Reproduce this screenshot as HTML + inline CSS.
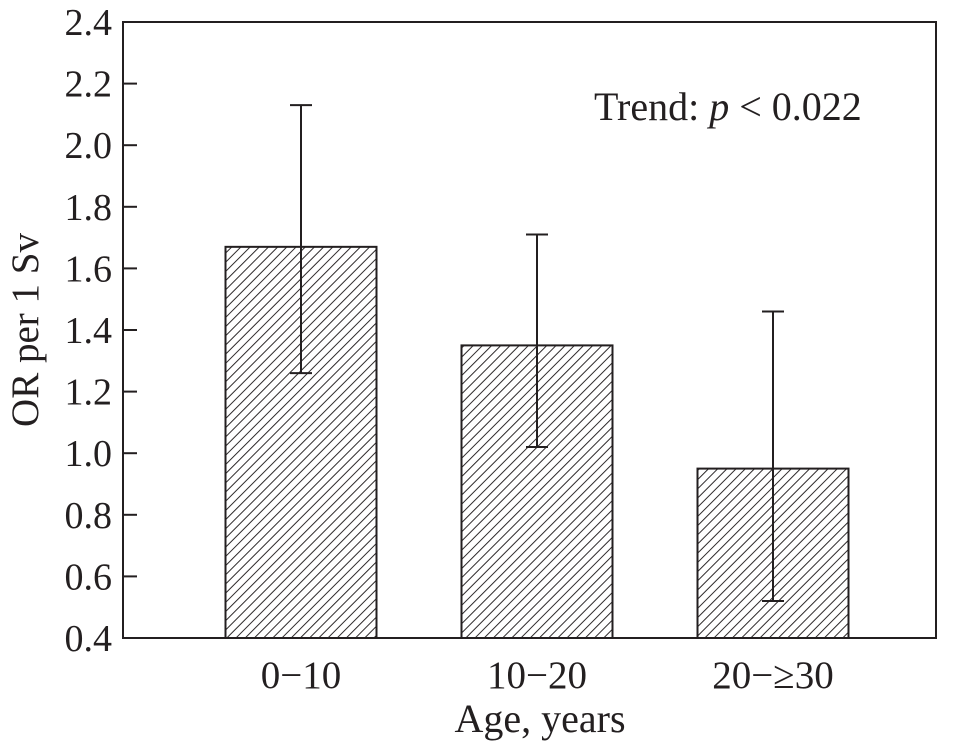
<!DOCTYPE html>
<html><head><meta charset="utf-8"><style>
body{margin:0;background:#fff}
svg text{font-family:"Liberation Serif",serif;fill:#231f20}
</style></head><body>
<svg id="chart" width="953" height="744" viewBox="0 0 953 744">
<defs><pattern id="hatch" patternUnits="userSpaceOnUse" width="6.5" height="6.5" patternTransform="rotate(45)">
<line x1="0" y1="0" x2="0" y2="6.5" stroke="#231f20" stroke-width="1.9"/></pattern></defs>
<g id="bars"></g>
<rect x="123" y="22" width="813" height="616" fill="none" stroke="#231f20" stroke-width="2"/>
<g id="axis"></g>
<text x="594" y="120" font-size="40">Trend: <tspan font-style="italic">p</tspan> &lt; 0.022</text>
<text x="540" y="732" font-size="40" text-anchor="middle">Age, years</text>
<text transform="translate(38,330) rotate(-90)" font-size="39" text-anchor="middle">OR per 1 Sv</text>
</svg>
<script>
const categories=["0\u221210","10\u221220","20\u2212\u226530"];
const values=[1.67,1.35,0.95];
const errLow=[1.26,1.02,0.52];
const errHigh=[2.13,1.71,1.46];
const yTicks=["0.4","0.6","0.8","1.0","1.2","1.4","1.6","1.8","2.0","2.2","2.4"];
const ns="http://www.w3.org/2000/svg";
const y0=638,yTop=22,vMin=0.4,vMax=2.4;
const y=v=>y0-(v-vMin)/(vMax-vMin)*(y0-yTop);
const band=236,startX=183;
const xc=i=>startX+band*i+118;
const bw=151;
function mk(t,a,p){const e=document.createElementNS(ns,t);for(const k in a)e.setAttribute(k,a[k]);p.appendChild(e);return e;}
const bars=document.getElementById('bars'),axis=document.getElementById('axis');
categories.forEach((c,i)=>{
  const r=mk('rect',{x:xc(i)-bw/2,y:y(values[i]),width:bw,height:y0-y(values[i]),fill:'url(#hatch)',stroke:'#231f20','stroke-width':2},bars);
  
  
  const g=mk('g',{stroke:'#231f20','stroke-width':2},bars);
  
  
  mk('line',{x1:xc(i),x2:xc(i),y1:y(errLow[i]),y2:y(errHigh[i])},g);
  mk('line',{x1:xc(i)-11,x2:xc(i)+11,y1:y(errLow[i]),y2:y(errLow[i])},g);
  mk('line',{x1:xc(i)-11,x2:xc(i)+11,y1:y(errHigh[i]),y2:y(errHigh[i])},g);
  const t=mk('text',{x:xc(i),y:688,'font-size':39,'text-anchor':'middle'},axis);
  t.textContent=c;
  
  
});
yTicks.forEach(s=>{
  const v=parseFloat(s);
  const l=mk('line',{x1:123,x2:137,y1:y(v),y2:y(v),stroke:'#231f20','stroke-width':2},axis);
  
  
  const t=mk('text',{x:112,y:y(v)+13,'font-size':38,'text-anchor':'end'},axis);
  t.textContent=s;
  
  
});
</script>
</body></html>
